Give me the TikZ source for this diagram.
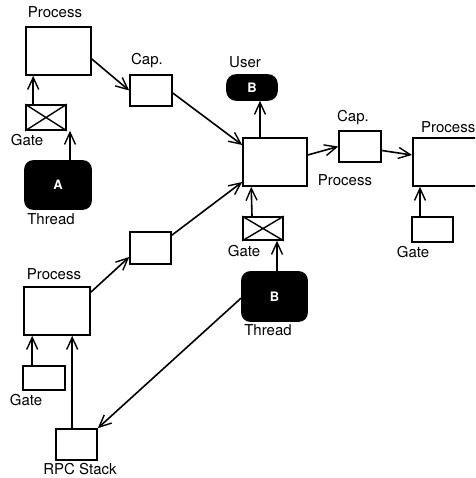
\documentclass[tikz,border=0pt]{standalone}
\usepackage{fontspec}
\setmainfont{TeX Gyre Heros}
\usetikzlibrary{arrows.meta}
\begin{document}
\begin{tikzpicture}[x=1pt,y=-1pt,
  box/.style={draw,line width=1.6pt,inner sep=0pt,fill=white},
  blk/.style={draw,fill=black,line width=1.6pt,rounded corners=8pt,inner sep=0pt,text=white,font=\fontsize{13}{15}\selectfont\bfseries},
  lbl/.style={inner sep=0pt,font=\fontsize{15}{18}\selectfont},
  arr/.style={line width=1.6pt,-{Straight Barb[length=12pt,width=11pt,line width=1.4pt]}}]
\clip (0,0) rectangle (475,478);
% boxes
\node[box,minimum width=65pt,minimum height=48pt] (p1) at (58.5,51) {};
\node[box,minimum width=40pt,minimum height=25pt] (g1) at (46,117.5) {};
\node[blk,minimum width=66pt,minimum height=48pt] (ta) at (58,185) {A};
\node[box,minimum width=42pt,minimum height=31pt] (c1) at (151,90.5) {};
\node[blk,minimum width=50pt,minimum height=25pt,rounded corners=9pt] (ub) at (252,87.5) {B};
\node[box,minimum width=64pt,minimum height=48pt] (pc) at (275,162) {};
\node[box,minimum width=42pt,minimum height=31pt] (c2) at (360,146.5) {};
\node[box,minimum width=70pt,minimum height=48pt,anchor=west] (pr) at (412,162) {};
\node[box,minimum width=41pt,minimum height=25pt] (gr) at (432.5,229.5) {};
\node[box,minimum width=40pt,minimum height=23pt] (gc) at (263,228.5) {};
\node[blk,minimum width=65pt,minimum height=49pt] (tb) at (274.5,296.5) {B};
\node[box,minimum width=41pt,minimum height=32pt] (c3) at (150.5,248) {};
\node[box,minimum width=66pt,minimum height=48pt] (pl) at (57,311) {};
\node[box,minimum width=42pt,minimum height=24pt] (gl) at (44,378) {};
\node[box,minimum width=41pt,minimum height=31pt] (rpc) at (76.5,444.5) {};
% gate crosses
\draw[line width=1.4pt] (g1.north west)--(g1.south east) (g1.south west)--(g1.north east);
\draw[line width=1.4pt] (gc.north west)--(gc.south east) (gc.south west)--(gc.north east);
% labels
\node[lbl] (lp1) at (55,12) {Process};
\node[lbl] (lg1) at (27,140) {Gate};
\node[lbl] (lta) at (51,219) {Thread};
\node[lbl] (lc1) at (147,61) {Cap.};
\node[lbl] (lub) at (245,62) {User};
\node[lbl] (lc2) at (353,118) {Cap.};
\node[lbl,anchor=west] (lpr) at (421,127) {Process};
\node[lbl] (lpc) at (345,180) {Process};
\node[lbl] (lgc) at (244,251) {Gate};
\node[lbl] (lgr) at (413,252) {Gate};
\node[lbl] (ltb) at (268,330) {Thread};
\node[lbl] (lpl) at (54,274) {Process};
\node[lbl] (lgl) at (26,400) {Gate};
\node[lbl] (lrpc) at (80,469) {RPC Stack};
% arrows
\draw[arr] ([xshift=8pt]g1.north west) -- ([xshift=8pt]p1.south west);
\draw[arr] ([xshift=12pt]ta.north) -- ([xshift=12pt]ta.north |- g1.south);
\draw[arr] ([yshift=-8pt]p1.east) -- (c1.west);
\draw[arr] ([yshift=-2.5pt]c1.east) -- ([yshift=17pt]pc.west);
\draw[arr] ([yshift=-6pt]pl.north east) -- ([yshift=-9pt]c3.west);
\draw[arr] ([yshift=-4pt]c3.north east) -- ([yshift=-20pt]pc.west);
\draw[arr] ([xshift=-15pt]pc.north) -- ([xshift=8pt]ub.south);
\draw[arr] ([yshift=7pt]pc.east) -- (c2.west);
\draw[arr] ([yshift=-4pt]c2.east) -- ([yshift=7pt]pr.west);
\draw[arr] ([xshift=-12.5pt]gr.north) -- ([xshift=8pt]pr.south west);
\draw[arr] ([xshift=-11pt]gc.north) -- ([xshift=9pt]pc.south west);
\draw[arr] ([xshift=2.5pt]tb.north) -- ([xshift=14pt]gc.south);
\draw[arr] ([yshift=-1.5pt]tb.west) -- (rpc.north east);
\draw[arr] ([xshift=10pt]gl.north west) -- ([xshift=9pt]pl.south west);
\draw[arr] ([xshift=17pt]rpc.north west) -- ([xshift=49pt]pl.south west);
\end{tikzpicture}
\end{document}
